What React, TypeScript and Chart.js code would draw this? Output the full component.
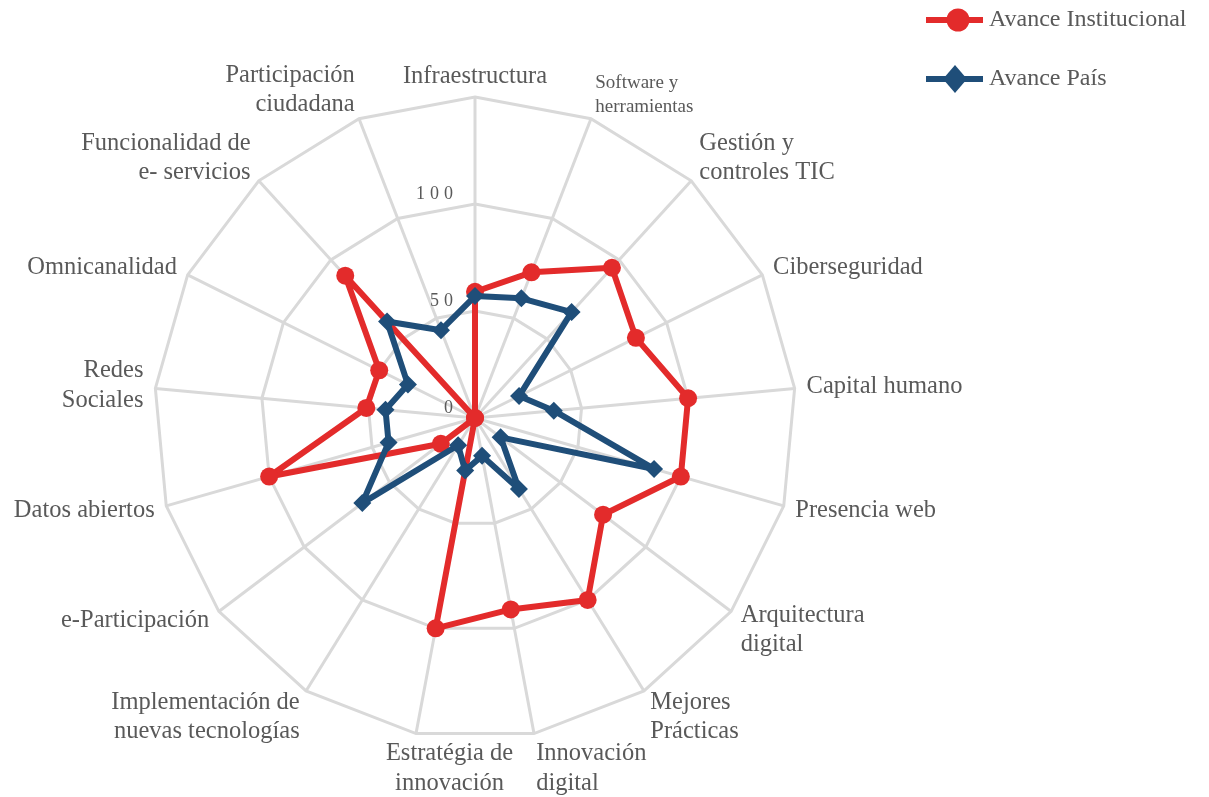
import React, { useEffect, useRef } from "react";
import { Chart, registerables } from "chart.js";

Chart.register(...registerables);

const CATEGORIES: string[][] = [
  ["Infraestructura"],
  ["Software y", "herramientas"],
  ["Gestión y", "controles TIC"],
  ["Ciberseguridad"],
  ["Capital humano"],
  ["Presencia web"],
  ["Arquitectura", "digital"],
  ["Mejores", "Prácticas"],
  ["Innovación", "digital"],
  ["Estratégia de", "innovación"],
  ["Implementación de", "nuevas tecnologías"],
  ["e-Participación"],
  ["Datos abiertos"],
  ["Redes", "Sociales"],
  ["Omnicanalidad"],
  ["Funcionalidad de", "e- servicios"],
  ["Participación", "ciudadana"],
];

const SERIES_NAMES = ["Avance Institucional", "Avance País"];
const AVANCE_INSTITUCIONAL = [59, 73, 95, 84, 100, 100, 75, 100, 91, 100, 0, 20, 100, 51, 50, 90, 0];
const AVANCE_PAIS = [57, 60, 67, 23, 37, 87, 15, 39, 18, 25, 15, 66, 42, 42, 35, 61, 44];

const SCALE_MIN = 0;
const SCALE_MAX = 150;
const SCALE_STEP = 50;

const RED = "#E32B2B";
const BLUE = "#1F4E79";
const GRID = "#D9D9D9";
const TEXT = "#595959";
const FONT_FAMILY = '"Liberation Serif", "Times New Roman", serif';

const excelLabels = {
  id: "excelLabels",
  afterDraw(chart: any) {
    const scale = chart.scales.r;
    const ctx: CanvasRenderingContext2D = chart.ctx;
    const labels: any[] = chart.data.labels;
    const n = labels.length;
    ctx.save();
    ctx.fillStyle = TEXT;
    ctx.textBaseline = "middle";

    // point labels
    for (let i = 0; i < n; i++) {
      const lines: string[] = Array.isArray(labels[i]) ? labels[i] : [labels[i]];
      const small = i === 1;
      const size = small ? 19 : 24.5;
      const lh = small ? 24 : 29.5;
      ctx.font = `${size}px ${FONT_FAMILY}`;
      const deg = (i * 360) / n;
      const rad = (deg * Math.PI) / 180;
      const c = Math.cos(rad);
      const vertex = scale.getPointPosition(i, scale.drawingArea);
      let px = scale.getPointPosition(i, scale.drawingArea + 12).x;
      const h = lines.length * lh;
      const extra = Math.abs(c) > 0.97 ? 5 : 0;
      const cy = vertex.y - c * (h / 2 + 1 + extra);
      let align: CanvasTextAlign = "center";
      if (deg > 0.5 && deg < 179.5) align = "left";
      else if (deg > 180.5) align = "right";
      if (deg > 180.5 && deg < 195) {
        // bottom-left label: centred between its spoke and the vertical axis
        align = "center";
        px = (vertex.x + scale.xCenter) / 2 + 4;
      }
      ctx.textAlign = align;
      lines.forEach((line, k) => {
        ctx.fillText(line, px, cy - h / 2 + lh * (k + 0.5));
      });
    }

    // tick labels
    ctx.font = `18px ${FONT_FAMILY}`;
    ctx.textAlign = "right";
    try {
      (ctx as any).letterSpacing = "5px";
    } catch (e) {}
    scale.ticks.forEach((t: any) => {
      if (t.value >= SCALE_MAX) return;
      const p = scale.getPointPositionForValue(0, t.value);
      ctx.fillText(String(t.label), p.x - 17, p.y - 10);
    });
    try {
      (ctx as any).letterSpacing = "0px";
    } catch (e) {}

    // legend
    const ds = chart.data.datasets;
    const rows = [20, 79];
    ds.forEach((d: any, k: number) => {
      const y = rows[k];
      ctx.strokeStyle = d.borderColor;
      ctx.lineWidth = 6;
      ctx.beginPath();
      ctx.moveTo(926, y);
      ctx.lineTo(983, y);
      ctx.stroke();
      ctx.fillStyle = d.borderColor;
      ctx.beginPath();
      if (d.pointStyle === "rectRot") {
        ctx.moveTo(955, y - 14);
        ctx.lineTo(967, y);
        ctx.lineTo(955, y + 14);
        ctx.lineTo(943, y);
        ctx.closePath();
      } else {
        ctx.arc(958, y, 11.5, 0, Math.PI * 2);
      }
      ctx.fill();
      ctx.fillStyle = TEXT;
      ctx.font = `24px ${FONT_FAMILY}`;
      ctx.textAlign = "left";
      ctx.fillText(d.label, 989, y);
    });
    ctx.restore();
  },
};

export default function App() {
  const ref = useRef<HTMLCanvasElement | null>(null);
  useEffect(() => {
    if (!ref.current) return;
    const chart = new Chart(ref.current, {
      type: "radar",
      data: {
        labels: CATEGORIES as any,
        datasets: [
          {
            label: SERIES_NAMES[0],
            data: AVANCE_INSTITUCIONAL,
            borderColor: RED,
            backgroundColor: RED,
            pointBackgroundColor: RED,
            pointBorderColor: RED,
            pointRadius: 9,
            pointBorderWidth: 0,
            pointStyle: "circle",
            borderWidth: 6,
            borderJoinStyle: "round",
            fill: false,
            order: 1,
          },
          {
            label: SERIES_NAMES[1],
            data: AVANCE_PAIS,
            borderColor: BLUE,
            backgroundColor: BLUE,
            pointBackgroundColor: BLUE,
            pointBorderColor: BLUE,
            pointRadius: 9,
            pointBorderWidth: 0,
            pointStyle: "rectRot",
            borderWidth: 6,
            borderJoinStyle: "round",
            fill: false,
            order: 0,
          },
        ] as any,
      },
      options: {
        responsive: false,
        maintainAspectRatio: false,
        animation: false,
        layout: { padding: { top: 97, bottom: 58, left: 154, right: 413 } },
        plugins: { legend: { display: false }, tooltip: { enabled: false } },
        elements: { line: { tension: 0 } },
        scales: {
          r: {
            min: SCALE_MIN,
            max: SCALE_MAX,
            beginAtZero: true,
            ticks: { stepSize: SCALE_STEP, display: false },
            grid: { color: GRID, lineWidth: 3 },
            angleLines: { color: GRID, lineWidth: 3 },
            pointLabels: { display: false },
          },
        },
      },
      plugins: [excelLabels],
    });
    return () => chart.destroy();
  }, []);
  return (
    <div style={{ position: "absolute", left: 0, top: 0, width: 1209, height: 797, background: "#fff" }}>
      <canvas ref={ref} width={1209} height={797} style={{ width: 1209, height: 797 }} />
    </div>
  );
}
